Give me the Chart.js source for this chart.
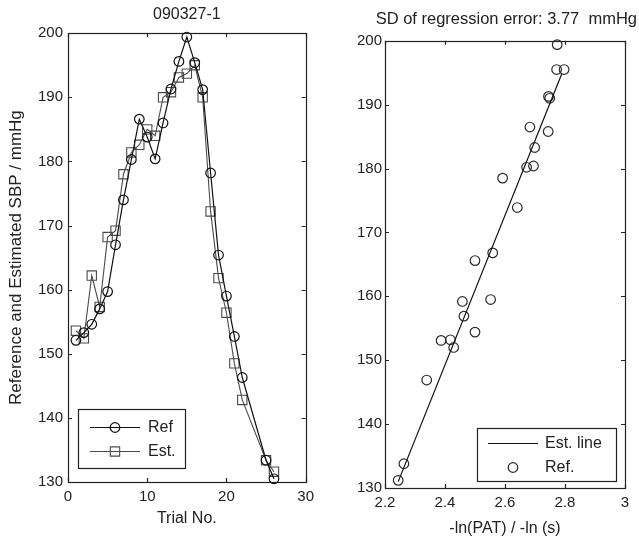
<!DOCTYPE html>
<html>
<head>
<meta charset="utf-8">
<script src="https://cdn.jsdelivr.net/npm/chart.js@4.4.1/dist/chart.umd.min.js"></script>
<style>
  body { margin: 0; background: #fff; overflow: hidden; }
  #trialChart { position: absolute; left: 0; top: 0; }
  #fitChart { position: absolute; left: 320px; top: 0; }
</style>
</head>
<body>
<canvas id="trialChart" width="320" height="543"></canvas>
<canvas id="fitChart" width="319" height="543"></canvas>
<script>
// left panel: SBP per trial (trials 23 and 24 missing)
const trials = [1, 2, 3, 4, 5, 6, 7, 8, 9, 10, 11, 12, 13, 14, 15, 16, 17, 18, 19, 20, 21, 22, 25, 26];
const refSBP = [152.1, 153.3, 154.6, 157.0, 159.7, 167.0, 174.0, 180.3, 186.6, 183.8, 180.4, 186.0,
                191.3, 195.6, 199.4, 195.4, 191.2, 178.2, 165.4, 159.0, 152.7, 146.3, 133.4, 130.5];
const estSBP = [153.6, 152.4, 162.2, 157.3, 168.2, 169.2, 178.0, 181.4, 182.6, 185.0, 184.0, 190.0,
                190.8, 193.1, 193.7, 195.0, 190.0, 172.2, 161.8, 156.4, 148.5, 142.8, 133.4, 131.6];

// right panel: -ln(PAT) against reference SBP
const lnPAT = [2.774, 2.772, 2.797, 2.745, 2.749, 2.683, 2.744, 2.699, 2.672, 2.695, 2.592, 2.641,
               2.559, 2.500, 2.552, 2.458, 2.463, 2.500, 2.387, 2.418, 2.429, 2.339, 2.263, 2.244];
const lnSBP = [199.4, 195.5, 195.5, 191.3, 191.0, 186.5, 185.8, 183.3, 180.2, 180.4, 178.5, 173.9,
               166.8, 165.6, 159.5, 159.2, 156.9, 154.4, 153.1, 153.2, 152.0, 146.9, 133.8, 131.2];
const fitX = [2.244, 2.789];
const fitY = [131.0, 194.8];

const trialTicks = [0, 10, 20, 30];
const sbpTicks = [130, 140, 150, 160, 170, 180, 190, 200];
const patTicks = [2.2, 2.4, 2.6, 2.8, 3];

Chart.defaults.font.family = '"Liberation Sans", Arial, sans-serif';
Chart.defaults.color = '#222';
Chart.defaults.animation = false;

const ink = '#222';

function pairs(xs, ys) {
    return xs.map((x, i) => ({x: x, y: ys[i]}));
}

function useTicks(list) {
    return function(scale) {
        scale.ticks = list.map(v => ({value: v}));
    };
}

// matlab style frame with ticks pointing inward on all four sides
const axisBox = {
    id: 'axisBox',
    beforeDatasetsDraw(chart, args, opts) {
        const {ctx, chartArea: a} = chart;
        const sx = chart.scales.x, sy = chart.scales.y;
        const len = opts.tickLength;
        ctx.save();
        ctx.strokeStyle = opts.color;
        ctx.lineWidth = 1.2;
        ctx.strokeRect(Math.round(a.left) + 0.5, Math.round(a.top) + 0.5,
            Math.round(a.right - a.left), Math.round(a.bottom - a.top));
        ctx.beginPath();
        sx.ticks.forEach(t => {
            const px = Math.round(sx.getPixelForValue(t.value)) + 0.5;
            ctx.moveTo(px, a.bottom); ctx.lineTo(px, a.bottom - len);
            ctx.moveTo(px, a.top); ctx.lineTo(px, a.top + len);
        });
        sy.ticks.forEach(t => {
            const py = Math.round(sy.getPixelForValue(t.value)) + 0.5;
            ctx.moveTo(a.left, py); ctx.lineTo(a.left + len, py);
            ctx.moveTo(a.right, py); ctx.lineTo(a.right - len, py);
        });
        ctx.stroke();
        ctx.restore();
    }
};

function drawMarker(ctx, style, r, x, y) {
    ctx.beginPath();
    if (style === 'rect') {
        const h = r * Math.SQRT1_2;
        ctx.rect(x - h, y - h, 2 * h, 2 * h);
    } else {
        ctx.arc(x, y, r, 0, Math.PI * 2);
    }
    ctx.stroke();
}

// framed legend drawn inside the plot, lower part
const boxLegend = {
    id: 'boxLegend',
    afterDraw(chart, args, opts) {
        const {ctx, chartArea: a} = chart;
        const x0 = Math.round(a.left + opts.left);
        const y0 = Math.round(a.bottom - opts.bottom - opts.height);
        ctx.save();
        ctx.fillStyle = '#fff';
        ctx.fillRect(x0, y0, opts.width, opts.height);
        ctx.strokeStyle = ink;
        ctx.lineWidth = 1.2;
        ctx.strokeRect(x0 + 0.5, y0 + 0.5, opts.width, opts.height);
        ctx.font = '16px "Liberation Sans", Arial, sans-serif';
        ctx.textBaseline = 'middle';
        chart.data.datasets.forEach((ds, i) => {
            const y = Math.round(y0 + opts.rowTop + i * opts.rowGap) + 0.5;
            const lx = x0 + opts.sampleLeft;
            ctx.strokeStyle = ds.borderColor;
            ctx.lineWidth = ds.borderWidth || 1.2;
            if (ds.showLine) {
                ctx.beginPath();
                ctx.moveTo(lx, y);
                ctx.lineTo(lx + opts.sampleWidth, y);
                ctx.stroke();
            }
            if (ds.pointRadius > 0) {
                drawMarker(ctx, ds.pointStyle, ds.pointRadius, lx + opts.sampleWidth / 2, y);
            }
            ctx.fillStyle = ink;
            ctx.fillText(ds.label, lx + opts.sampleWidth + opts.textGap, y);
        });
        ctx.restore();
    }
};

const tickFont = {size: 15};

new Chart(document.getElementById('trialChart'), {
    type: 'scatter',
    data: {
        datasets: [{
            label: 'Ref',
            data: pairs(trials, refSBP),
            showLine: true,
            borderColor: '#111',
            borderWidth: 1.2,
            pointStyle: 'circle',
            pointRadius: 4.8,
            pointBorderWidth: 1.2,
            pointBackgroundColor: 'rgba(0,0,0,0)',
            clip: false
        }, {
            label: 'Est.',
            data: pairs(trials, estSBP),
            showLine: true,
            borderColor: '#4a4a4a',
            borderWidth: 1.1,
            pointStyle: 'rect',
            pointRadius: 6.6,
            pointBorderWidth: 1.1,
            pointBackgroundColor: 'rgba(0,0,0,0)',
            clip: false
        }]
    },
    options: {
        responsive: false,
        layout: {padding: {right: 12}},
        plugins: {
            legend: {display: false},
            tooltip: {enabled: false},
            title: {
                display: true,
                text: '090327-1',
                fullSize: false,
                font: {size: 16, weight: 'normal'},
                padding: {top: 5, bottom: 9}
            },
            axisBox: {color: ink, tickLength: 4},
            boxLegend: {left: 10, bottom: 14, width: 107, height: 59,
                        rowTop: 18, rowGap: 24, sampleLeft: 12, sampleWidth: 50, textGap: 8}
        },
        scales: {
            x: {
                type: 'linear',
                min: 0, max: 30,
                afterBuildTicks: useTicks(trialTicks),
                afterFit: s => { s.height = 61; },
                grid: {display: false, drawTicks: false},
                border: {display: false},
                ticks: {font: tickFont, padding: 6},
                title: {display: true, text: 'Trial No.', font: {size: 16}, padding: {bottom: 15}}
            },
            y: {
                min: 130, max: 200,
                afterBuildTicks: useTicks(sbpTicks),
                afterFit: s => { s.width = 68; },
                grid: {display: false, drawTicks: false},
                border: {display: false},
                ticks: {font: tickFont, padding: 5},
                title: {display: true, text: 'Reference and Estimated SBP / mmHg',
                        font: {size: 17}, padding: {top: 6}}
            }
        }
    },
    plugins: [axisBox, boxLegend]
});

new Chart(document.getElementById('fitChart'), {
    type: 'scatter',
    data: {
        datasets: [{
            label: 'Est. line',
            data: pairs(fitX, fitY),
            showLine: true,
            borderColor: '#111',
            borderWidth: 1.2,
            pointRadius: 0
        }, {
            label: 'Ref.',
            data: pairs(lnPAT, lnSBP),
            showLine: false,
            borderColor: '#2a2a2a',
            pointStyle: 'circle',
            pointRadius: 4.8,
            pointBorderWidth: 1.2,
            pointBackgroundColor: 'rgba(0,0,0,0)',
            clip: false
        }]
    },
    options: {
        responsive: false,
        layout: {padding: {right: 2}},
        plugins: {
            legend: {display: false},
            tooltip: {enabled: false},
            title: {
                display: true,
                text: 'SD of regression error: 3.77  mmHg',
                align: 'end',
                font: {size: 16.5, weight: 'normal'},
                padding: {top: 10, bottom: 11}
            },
            axisBox: {color: ink, tickLength: 4},
            boxLegend: {left: 92, bottom: 7, width: 139, height: 53,
                        rowTop: 15, rowGap: 24, sampleLeft: 11, sampleWidth: 50, textGap: 7}
        },
        scales: {
            x: {
                type: 'linear',
                min: 2.2, max: 3,
                afterBuildTicks: useTicks(patTicks),
                afterFit: s => { s.height = 55; },
                grid: {display: false, drawTicks: false},
                border: {display: false},
                ticks: {font: tickFont, padding: 6, callback: v => String(Number(v.toFixed(1)))},
                title: {display: true, text: '-ln(PAT) / -ln (s)', font: {size: 16}, padding: {bottom: 5}}
            },
            y: {
                min: 130, max: 200,
                afterBuildTicks: useTicks(sbpTicks),
                afterFit: s => { s.width = 65; },
                grid: {display: false, drawTicks: false},
                border: {display: false},
                ticks: {font: tickFont, padding: 3}
            },
            // empty strip on the right so the title can run past the plot edge
            y2: {
                position: 'right',
                afterFit: s => { s.width = 12; },
                grid: {display: false, drawTicks: false},
                border: {display: false},
                ticks: {display: false}
            }
        }
    },
    plugins: [axisBox, boxLegend]
});
</script>
</body>
</html>
